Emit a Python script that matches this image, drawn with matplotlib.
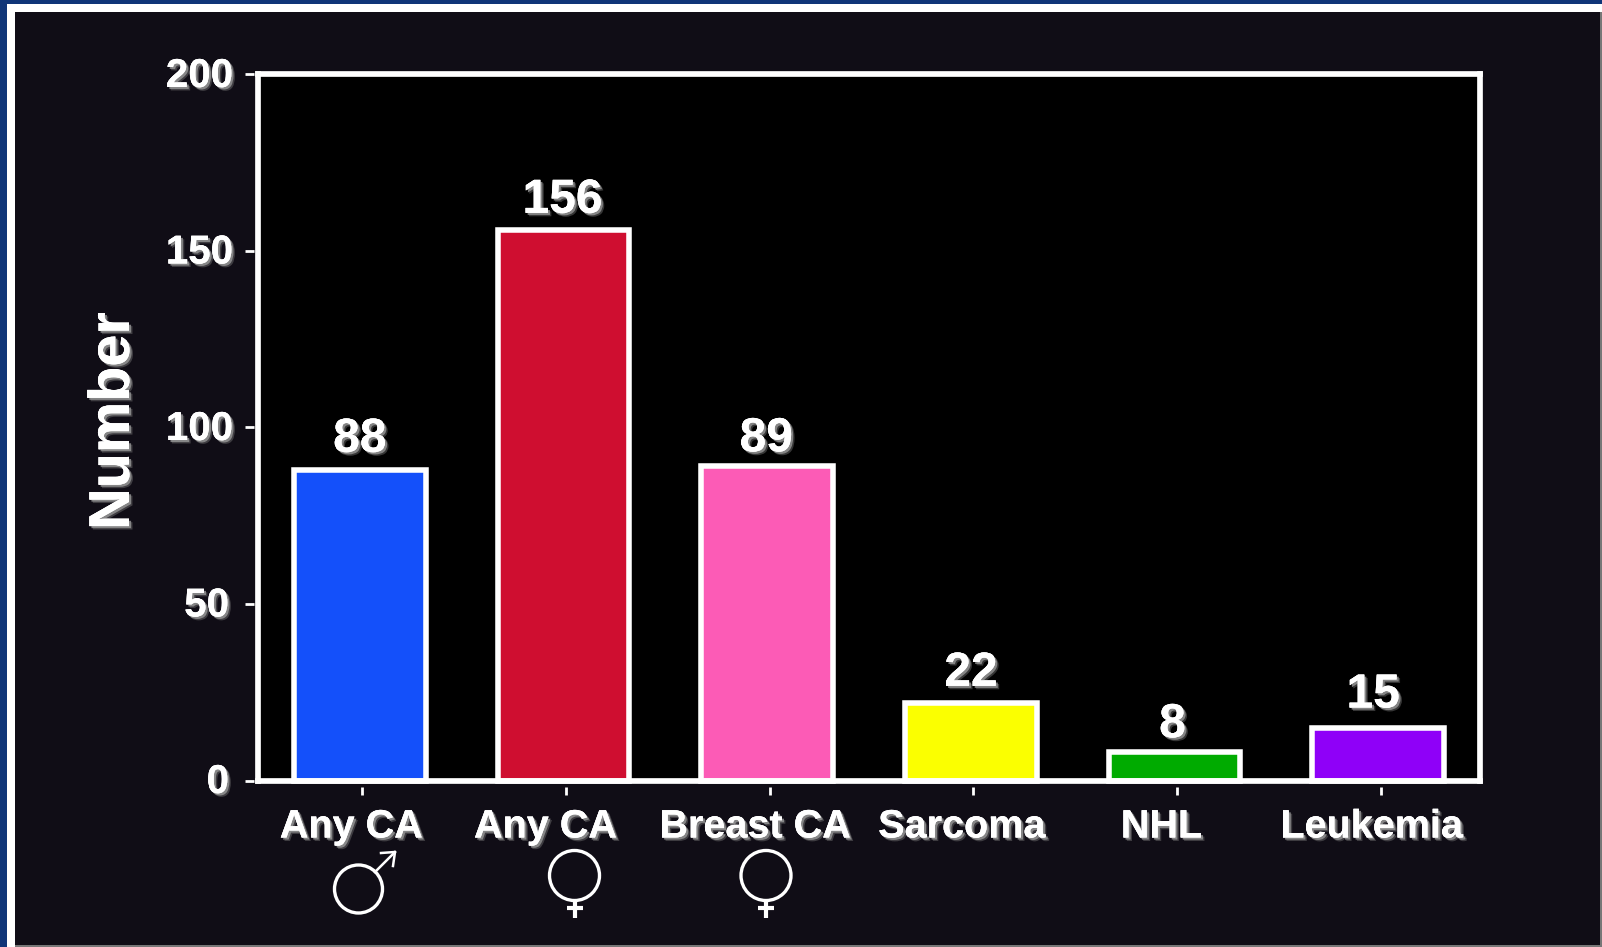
import matplotlib
matplotlib.use('Agg')
import matplotlib.pyplot as plt
import matplotlib.patheffects as pe
from matplotlib.patches import Circle, Rectangle
from matplotlib.transforms import blended_transform_factory

W, H = 1602, 947

categories = ['Any CA', 'Any CA', 'Breast CA', 'Sarcoma', 'NHL', 'Leukemia']
values = [88, 156, 89, 22, 8, 15]
bar_colors = ['#1450fa', '#cf0e30', '#fc5bb6', '#fbff00', '#00ab00', '#8f00f8']
y_ticks = [0, 50, 100, 150, 200]

# the labels in the slide are not centred on the bars
cat_offsets = [-8.5, -18, -12, -9, -13, -6.5]
val_offsets = [0, -1, -1, 0, -2, -5]
val_heights = [8, 7, 5, 7, 5, 10]
ytick_offsets = [-29, -29, -25, -25, -25]

plt.rcParams['font.family'] = ['Liberation Sans', 'DejaVu Sans']
plt.rcParams['font.weight'] = 'bold'

shadow = [
    pe.withSimplePatchShadow(offset=(2.5, -2.5), shadow_rgbFace='#777777', alpha=0.45),
    pe.withSimplePatchShadow(offset=(1.5, -1.5), shadow_rgbFace='#999999', alpha=0.8),
    pe.Normal(),
]

fig = plt.figure(figsize=(W / 100, H / 100), dpi=100, facecolor='#0f3578')

# slide frame, in pixels
bg = fig.add_axes([0, 0, 1, 1], zorder=0)
bg.set_xlim(0, W)
bg.set_ylim(H, 0)
bg.axis('off')
bg.add_patch(Rectangle((7, 4), W, H, fc='white', ec='none'))
bg.add_patch(Rectangle((15, 12), W - 17, H - 14, fc='#100d16', ec='none'))
bg.add_patch(Rectangle((15, H - 2), W, 2, fc='#777777', ec='none'))
bg.add_patch(Rectangle((W - 2, 12), 2, H, fc='#777777', ec='none'))

left, right, top, bottom = 258, 1480, 74.5, 780.5
ax = fig.add_axes([left / W, (H - bottom) / H, (right - left) / W, (bottom - top) / H],
                  facecolor='black', zorder=1)

x = list(range(len(values)))
ax.bar(x, values, width=0.645, color=bar_colors, edgecolor='white', linewidth=4, clip_on=False)
ax.set_xlim(-0.5, 5.5)
ax.set_ylim(0, 200)

for s in ax.spines.values():
    s.set_color('white')
    s.set_linewidth(4.1)
    s.set_zorder(5)

ax.set_xticks(x)
ax.set_xticklabels([])
ax.set_yticks(y_ticks)
ax.set_yticklabels([])
ax.tick_params(length=0)

# ticks sit a little away from the axis lines
xtrans = blended_transform_factory(ax.transData, ax.transAxes)
ytrans = blended_transform_factory(ax.transAxes, ax.transData)
for i in x:
    ax.plot([i + 0.012, i + 0.012], [-0.0085, -0.021], color='white', lw=2,
            transform=xtrans, clip_on=False, solid_capstyle='butt')
    ax.annotate(categories[i], xy=(i, 0), xycoords=xtrans, xytext=(cat_offsets[i], -46),
                textcoords='offset pixels', ha='center', va='center', color='white',
                fontsize=28.5, fontweight='bold', path_effects=shadow, annotation_clip=False)
    ax.annotate(str(values[i]), xy=(i, values[i]), xytext=(val_offsets[i], val_heights[i]),
                textcoords='offset pixels', ha='center', va='bottom', color='white',
                fontsize=34.5, fontweight='bold', path_effects=shadow, annotation_clip=False)

for v, off in zip(y_ticks, ytick_offsets):
    ax.plot([-0.0105, -0.0035], [v, v], color='white', lw=2,
            transform=ytrans, clip_on=False, solid_capstyle='butt')
    ax.annotate(str(v), xy=(0, v), xycoords=ytrans, xytext=(off, -1.5),
                textcoords='offset pixels', ha='right', va='center', color='white',
                fontsize=29, fontweight='bold', path_effects=shadow, annotation_clip=False)

fig.text(114 / W, 1 - 421 / H, 'Number', rotation=90, ha='center', va='center', color='white',
         fontsize=41.5, fontweight='bold', path_effects=shadow, zorder=3)

# gender symbols
sym = fig.add_axes([0, 0, 1, 1], zorder=2)
sym.set_xlim(0, W)
sym.set_ylim(H, 0)
sym.axis('off')
sym.patch.set_alpha(0)

sym.add_patch(Circle((358.5, 889), 24, fc='none', ec='white', lw=2.4))
sym.plot([375, 395], [872, 852], color='white', lw=1.8)
sym.plot([381, 395, 393], [853, 852, 866], color='white', lw=1.8)

for cx in [574.5, 766]:
    sym.add_patch(Circle((cx, 875.5), 25, fc='none', ec='white', lw=2.4))
    sym.plot([cx, cx], [900, 918], color='white', lw=3, solid_capstyle='butt')
    sym.plot([cx - 8, cx + 8], [908, 908], color='white', lw=3, solid_capstyle='butt')

fig.savefig('out.png', dpi=100, facecolor=fig.get_facecolor())
